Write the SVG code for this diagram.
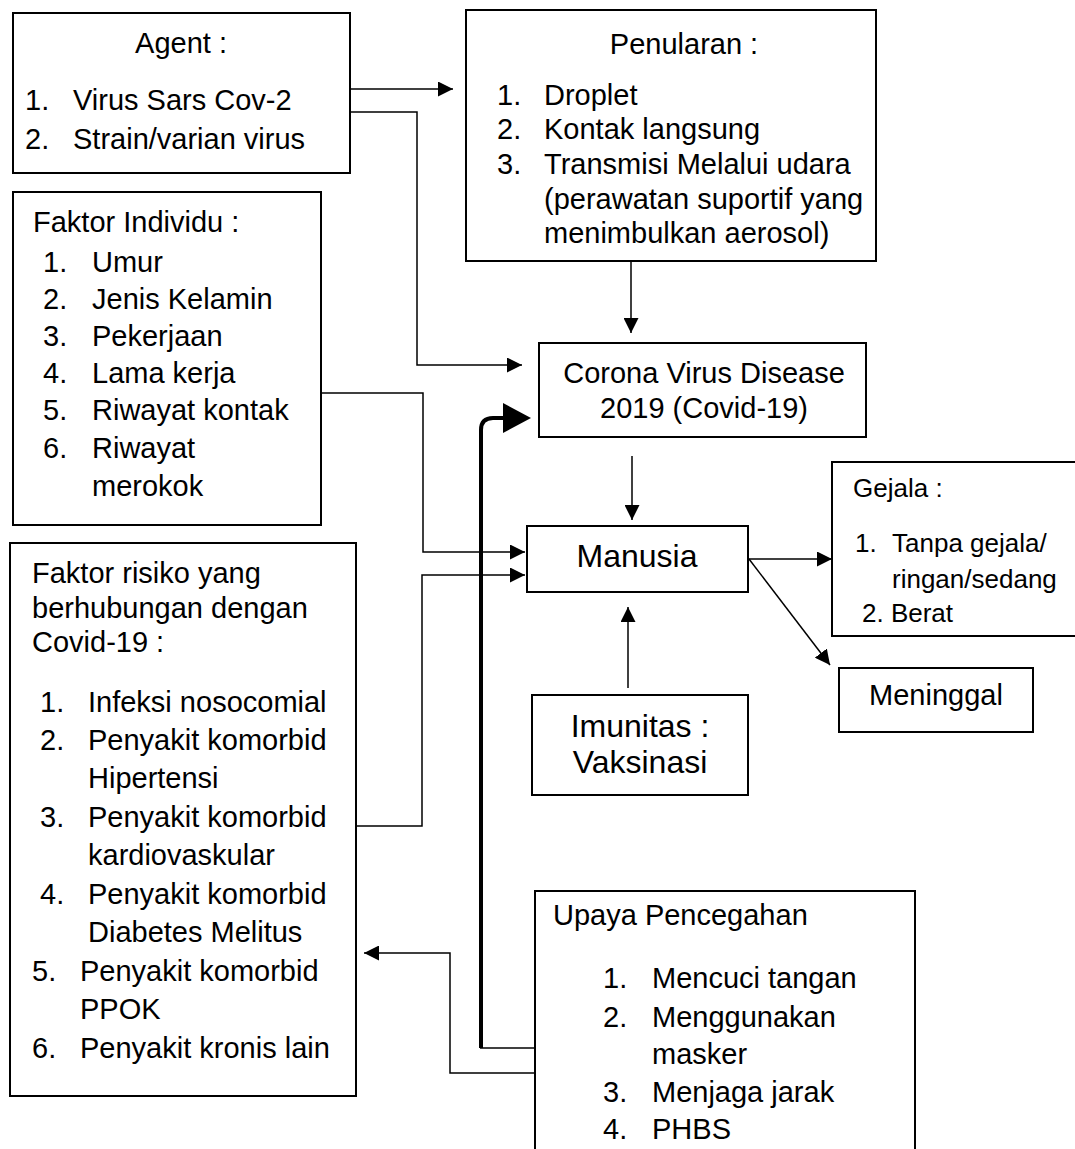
<svg xmlns="http://www.w3.org/2000/svg" width="1075" height="1149" viewBox="0 0 1075 1149">
<style>
text{font-family:"Liberation Sans",Arial,sans-serif;font-size:29px;fill:#000}
.box{fill:#fff;stroke:#000;stroke-width:2}
.ln{fill:none;stroke:#000;stroke-width:1.5}
.thick{fill:none;stroke:#000;stroke-width:4}
.c{text-anchor:middle}
.g{font-size:26px}
.big{font-size:32px}
</style>
<defs>
<marker id="ah" markerUnits="userSpaceOnUse" markerWidth="15" markerHeight="15" refX="15" refY="7.5" orient="auto"><path d="M0,0 L15,7.5 L0,15 z" fill="#000"/></marker>
</defs>
<g id="agent">
<rect class="box" x="13" y="13" width="337" height="160"/>
<text class="c" x="181" y="53">Agent :</text>
<text x="25" y="110">1.</text><text x="73" y="110">Virus Sars Cov-2</text>
<text x="25" y="149">2.</text><text x="73" y="149">Strain/varian virus</text>
</g>
<g id="penularan">
<rect class="box" x="466" y="10" width="410" height="251"/>
<text class="c" x="684" y="54">Penularan :</text>
<text x="497" y="105">1.</text><text x="544" y="105">Droplet</text>
<text x="497" y="139">2.</text><text x="544" y="139">Kontak langsung</text>
<text x="497" y="174">3.</text><text x="544" y="174">Transmisi Melalui udara</text>
<text x="544" y="209">(perawatan suportif yang</text>
<text x="544" y="243">menimbulkan aerosol)</text>
</g>
<g id="individu">
<rect class="box" x="13" y="192" width="308" height="333"/>
<text x="33" y="232">Faktor Individu :</text>
<text x="43" y="272">1.</text><text x="92" y="272">Umur</text>
<text x="43" y="309">2.</text><text x="92" y="309">Jenis Kelamin</text>
<text x="43" y="346">3.</text><text x="92" y="346">Pekerjaan</text>
<text x="43" y="383">4.</text><text x="92" y="383">Lama kerja</text>
<text x="43" y="420">5.</text><text x="92" y="420">Riwayat kontak</text>
<text x="43" y="458">6.</text><text x="92" y="458">Riwayat</text>
<text x="92" y="496">merokok</text>
</g>
<g id="risiko">
<rect class="box" x="10" y="543" width="346" height="553"/>
<text x="32" y="583">Faktor risiko yang</text>
<text x="32" y="618">berhubungan dengan</text>
<text x="32" y="652">Covid-19 :</text>
<text x="40" y="712">1.</text><text x="88" y="712">Infeksi nosocomial</text>
<text x="40" y="750">2.</text><text x="88" y="750">Penyakit komorbid</text>
<text x="88" y="788">Hipertensi</text>
<text x="40" y="827">3.</text><text x="88" y="827">Penyakit komorbid</text>
<text x="88" y="865">kardiovaskular</text>
<text x="40" y="904">4.</text><text x="88" y="904">Penyakit komorbid</text>
<text x="88" y="942">Diabetes Melitus</text>
<text x="32" y="981">5.</text><text x="80" y="981">Penyakit komorbid</text>
<text x="80" y="1019">PPOK</text>
<text x="32" y="1058">6.</text><text x="80" y="1058">Penyakit kronis lain</text>
</g>
<g id="corona">
<rect class="box" x="539" y="343" width="327" height="94"/>
<text class="c" x="704" y="383">Corona Virus Disease</text>
<text class="c" x="704" y="418">2019 (Covid-19)</text>
</g>
<g id="manusia">
<rect class="box" x="527" y="526" width="221" height="66"/>
<text class="c big" x="637" y="567">Manusia</text>
</g>
<g id="gejala">
<rect class="box" x="832" y="462" width="260" height="174"/>
<text class="g" x="853" y="497">Gejala :</text>
<text class="g" x="855" y="552">1.</text><text class="g" x="892" y="552">Tanpa gejala/</text>
<text class="g" x="892" y="588">ringan/sedang</text>
<text class="g" x="862" y="622">2. Berat</text>
</g>
<g id="meninggal">
<rect class="box" x="839" y="668" width="194" height="64"/>
<text class="c" x="936" y="705">Meninggal</text>
</g>
<g id="imunitas">
<rect class="box" x="532" y="695" width="216" height="100"/>
<text class="c big" x="640" y="737">Imunitas :</text>
<text class="c big" x="640" y="773">Vaksinasi</text>
</g>
<g id="upaya">
<rect class="box" x="535" y="891" width="380" height="280"/>
<text x="553" y="925">Upaya Pencegahan</text>
<text x="603" y="988">1.</text><text x="652" y="988">Mencuci tangan</text>
<text x="603" y="1027">2.</text><text x="652" y="1027">Menggunakan</text>
<text x="652" y="1064">masker</text>
<text x="603" y="1102">3.</text><text x="652" y="1102">Menjaga jarak</text>
<text x="603" y="1139">4.</text><text x="652" y="1139">PHBS</text>
</g>
<g id="connectors">
<path class="ln" d="M350,89 H453" marker-end="url(#ah)"/>
<path class="ln" d="M350,112 H417 V365 H522" marker-end="url(#ah)"/>
<path class="ln" d="M631,262 V333" marker-end="url(#ah)"/>
<path class="ln" d="M632,456 V520" marker-end="url(#ah)"/>
<path class="ln" d="M321,393 H423 V552 H525" marker-end="url(#ah)"/>
<path class="ln" d="M356,826 H422 V575 H525" marker-end="url(#ah)"/>
<path class="ln" d="M749,559 H832" marker-end="url(#ah)"/>
<path class="ln" d="M749,559 L830,665" marker-end="url(#ah)"/>
<path class="ln" d="M628,688 V607" marker-end="url(#ah)"/>
<path class="ln" d="M535,1073 H450 V953 H364" marker-end="url(#ah)"/>
<path class="ln" d="M480,1048 H535"/>
<path class="thick" d="M481,1048 V430 Q481,418 493,418 H505"/>
<path d="M503,403 L531,418 L503,433 z" fill="#000"/>
</g>
</svg>
